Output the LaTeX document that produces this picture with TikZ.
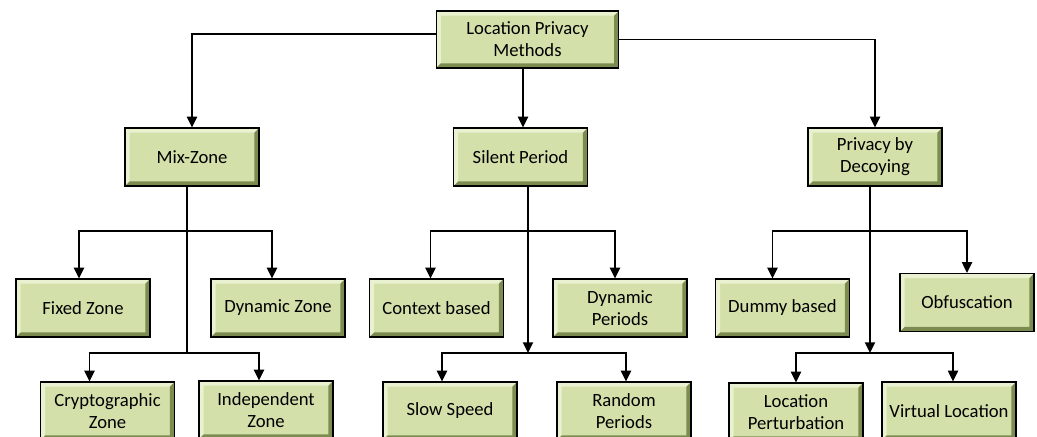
\documentclass[tikz,border=0pt]{standalone}
\usepackage{fontspec}
\setmainfont{Carlito}
\usetikzlibrary{arrows.meta,calc}

\definecolor{face}{RGB}{211,224,170}
\definecolor{bevlight}{RGB}{234,241,208}
\definecolor{bevdark}{RGB}{124,140,80}

\begin{document}
\begin{tikzpicture}[
  x=0.75pt, y=-0.75pt,
  box/.style={draw=black, line width=0.9pt, fill=face, align=center,
    minimum width=100.5pt, minimum height=43.5pt, inner sep=2pt,
    font=\fontsize{14}{16.5}\selectfont,
    path picture={ % bevelled edges
      \fill[bevlight] (path picture bounding box.north west) -- (path picture bounding box.north east)
        -- ++(-3.5pt,-3.5pt) -| ($(path picture bounding box.south west)+(3.5pt,3.5pt)$)
        -- (path picture bounding box.south west) -- cycle;
      \fill[bevdark] (path picture bounding box.south west) -- (path picture bounding box.south east)
        -- (path picture bounding box.north east) -- ++(-3.5pt,-3.5pt)
        |- ($(path picture bounding box.south west)+(3.5pt,3.5pt)$) -- cycle;
    }},
  rootbox/.style={box, minimum width=137pt, minimum height=42.75pt},
  arr/.style={line width=1.4pt, -{Triangle[length=8pt,width=7.5pt]}},
  trunk/.style={line width=1.4pt}
]
  \useasboundingbox (0,0) rectangle (1037,436);

  % top levels
  \node[rootbox] (root) at (527.5,39.5) {Location Privacy\\Methods};
  \node[box] (mix) at (192,157) {Mix-Zone};
  \node[box] (silent) at (520.5,157) {Silent Period};
  \node[box] (decoy) at (875,157) {Privacy by\\Decoying};

  % leaves
  \node[box] (fixed) at (83,308) {Fixed Zone};
  \node[box] (dynzone) at (278,308) {Dynamic Zone};
  \node[box] (crypto) at (107.5,411) {Cryptographic\\Zone};
  \node[box] (indep) at (266,410) {Independent\\Zone};
  \node[box] (context) at (436.5,308) {Context based};
  \node[box] (dynper) at (620,308) {Dynamic\\Periods};
  \node[box] (slow) at (450,411) {Slow Speed};
  \node[box] (random) at (624,411) {Random\\Periods};
  \node[box] (dummy) at (782.5,308) {Dummy based};
  \node[box] (obfus) at (967,302.5) {Obfuscation};
  \node[box] (locpert) at (796,412) {Location\\Perturbation};
  \node[box] (virtual) at (949,411) {Virtual Location};

  % junctions
  \coordinate (mixa) at (187,231);
  \coordinate (mixb) at (187,353);
  \coordinate (sila) at (528,231);
  \coordinate (silb) at (528,353);
  \coordinate (deca) at (870,231);
  \coordinate (decb) at (870,353);

  \draw[arr] ($(root.west)+(0,-5.5)$) -| (mix);
  \draw[arr] (root.east) -| (decoy);
  \draw[arr] ($(root.south)+(-4.5,0)$) -- ($(silent.north)+(2.5,0)$);

  \draw[trunk] ($(mix.south)+(-5,0)$) -- (mixb);
  \draw[arr] (mixa) -| ($(fixed.north)+(-4,0)$);
  \draw[arr] (mixa) -| ($(dynzone.north)+(-6,0)$);
  \draw[arr] (mixb) -| ($(crypto.north)+(-18,0)$);
  \draw[arr] (mixb) -| ($(indep.north)+(-7,0)$);

  \draw[arr] ($(silent.south)+(7.5,0)$) -- (silb);
  \draw[arr] (sila) -| ($(context.north)+(-6,0)$);
  \draw[arr] (sila) -| ($(dynper.north)+(-5,0)$);
  \draw[arr] (silb) -| ($(slow.north)+(-8,0)$);
  \draw[arr] (silb) -| ($(random.north)+(2,0)$);

  \draw[arr] ($(decoy.south)+(-5,0)$) -- (decb);
  \draw[arr] (deca) -| ($(dummy.north)+(-10,0)$);
  \draw[arr] (deca) -| (obfus.north);
  \draw[arr] (decb) -| (locpert.north);
  \draw[arr] (decb) -| ($(virtual.north)+(4,0)$);

\end{tikzpicture}
\end{document}
